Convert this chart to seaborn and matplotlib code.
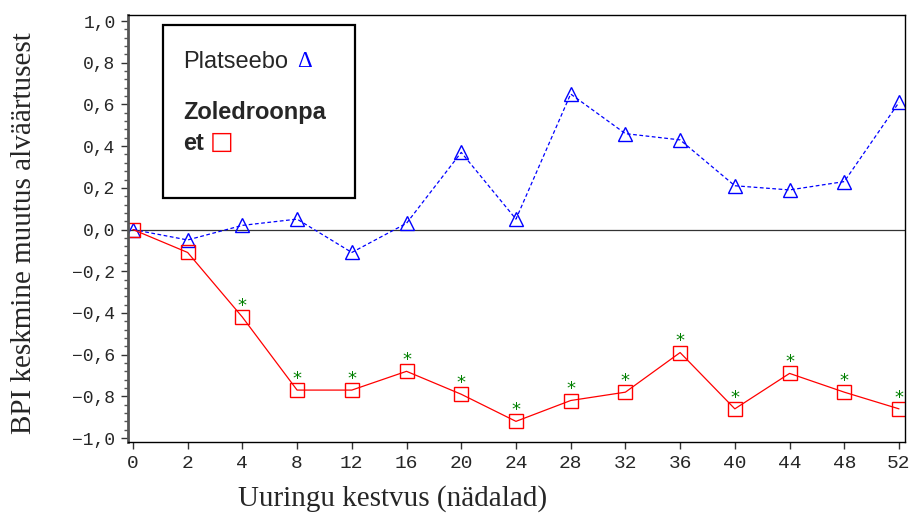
import seaborn as sns
import matplotlib.pyplot as plt
import pandas as pd
from matplotlib.ticker import MultipleLocator
from matplotlib.patches import Rectangle

# study weeks (categorical axis) and mean BPI change from baseline
weeks = [0, 2, 4, 8, 12, 16, 20, 24, 28, 32, 36, 40, 44, 48, 52]
platseebo = [0.0, -0.05, 0.02, 0.05, -0.11, 0.03, 0.37, 0.05, 0.65, 0.46, 0.43, 0.21, 0.19, 0.23, 0.61]
zoledroon = [0.0, -0.11, -0.42, -0.77, -0.77, -0.68, -0.79, -0.92, -0.82, -0.78, -0.59, -0.86, -0.69, -0.78, -0.86]
# significance marker per week for zoledronic acid
signif = [False, False] + [True] * 13
yticks = [-1.0, -0.8, -0.6, -0.4, -0.2, 0.0, 0.2, 0.4, 0.6, 0.8, 1.0]

df = pd.DataFrame({"pos": range(len(weeks)), "week": weeks,
                   "platseebo": platseebo, "zoledroon": zoledroon})

sns.set_style("ticks")
plt.rcParams["font.family"] = ["Liberation Sans", "DejaVu Sans"]

fig = plt.figure(figsize=(9.12, 5.15), dpi=100)
ax = fig.add_axes([128 / 912, 1 - 442 / 515, 777 / 912, 427 / 515])

# zero reference line
ax.axhline(0, color="#333333", linewidth=0.9, zorder=1)

sns.lineplot(data=df, x="pos", y="platseebo", ax=ax, color="blue",
             linestyle=(0, (3, 2)), linewidth=0.9,
             marker="^", markersize=10, markerfacecolor="none",
             markeredgecolor="blue", markeredgewidth=1.0)
sns.lineplot(data=df, x="pos", y="zoledroon", ax=ax, color="red",
             linewidth=0.9,
             marker="s", markersize=9.5, markerfacecolor="none",
             markeredgecolor="red", markeredgewidth=1.0)

for i, (v, s) in enumerate(zip(zoledroon, signif)):
    if s:
        ax.annotate("*", (i, v), xytext=(0, 1.5), textcoords="offset points",
                    ha="center", va="bottom", color="green", fontsize=13,
                    family="DejaVu Sans")

ax.set_xlim(-0.09, 14.11)
ax.set_ylim(-1.019, 1.029)
ax.set_xticks(range(len(weeks)))
ax.set_xticklabels([str(w) for w in weeks])
ax.set_yticks(yticks)
ax.set_yticklabels([f"{v:.1f}".replace(".", ",").replace("-", "\u2212") for v in yticks])
ax.yaxis.set_minor_locator(MultipleLocator(0.04))

for lab in ax.get_xticklabels():
    lab.set_family(["Liberation Mono", "DejaVu Sans Mono"])
    lab.set_fontsize(14)
for lab in ax.get_yticklabels():
    lab.set_family(["Liberation Mono", "DejaVu Sans Mono"])
    lab.set_fontsize(13)

ax.tick_params(axis="both", which="major", length=5, width=1, color="#333333", pad=4)
ax.tick_params(axis="y", which="minor", length=3, width=1, color="#555555")

for side in ["top", "right", "bottom"]:
    ax.spines[side].set_visible(True)
    ax.spines[side].set_color("black")
    ax.spines[side].set_linewidth(1.0)
ax.spines["left"].set_color("#555555")
ax.spines["left"].set_linewidth(2.0)

ax.set_xlabel("Uuringu kestvus (nädalad)", family="Liberation Serif", fontsize=21)
ax.xaxis.set_label_coords(0.34, -0.1)
ax.set_ylabel("BPI keskmine muutus alväärtusest", family="Liberation Serif", fontsize=21)
ax.yaxis.set_label_coords(-0.117, 0.49)

# legend box drawn by hand
ax.add_patch(Rectangle((0.045, 0.571), 0.247, 0.406, transform=ax.transAxes,
                       fill=False, edgecolor="black", linewidth=1.6, zorder=5))
ax.text(0.0708, 0.890, "Platseebo", transform=ax.transAxes, fontsize=17,
        ha="left", va="center")
ax.text(0.2175, 0.890, "\u0394", transform=ax.transAxes, fontsize=16.5,
        ha="left", va="center", color="blue", family="Liberation Serif")
ax.text(0.0708, 0.772, "Zoledroonpa", transform=ax.transAxes, fontsize=17,
        ha="left", va="center", fontweight="bold")
ax.text(0.0708, 0.700, "et", transform=ax.transAxes, fontsize=17,
        ha="left", va="center", fontweight="bold")
ax.text(0.121, 0.703, "\u25a1", transform=ax.transAxes, fontsize=18,
        ha="center", va="center", color="red", family="DejaVu Sans")

fig.savefig("out.png", dpi=100)
